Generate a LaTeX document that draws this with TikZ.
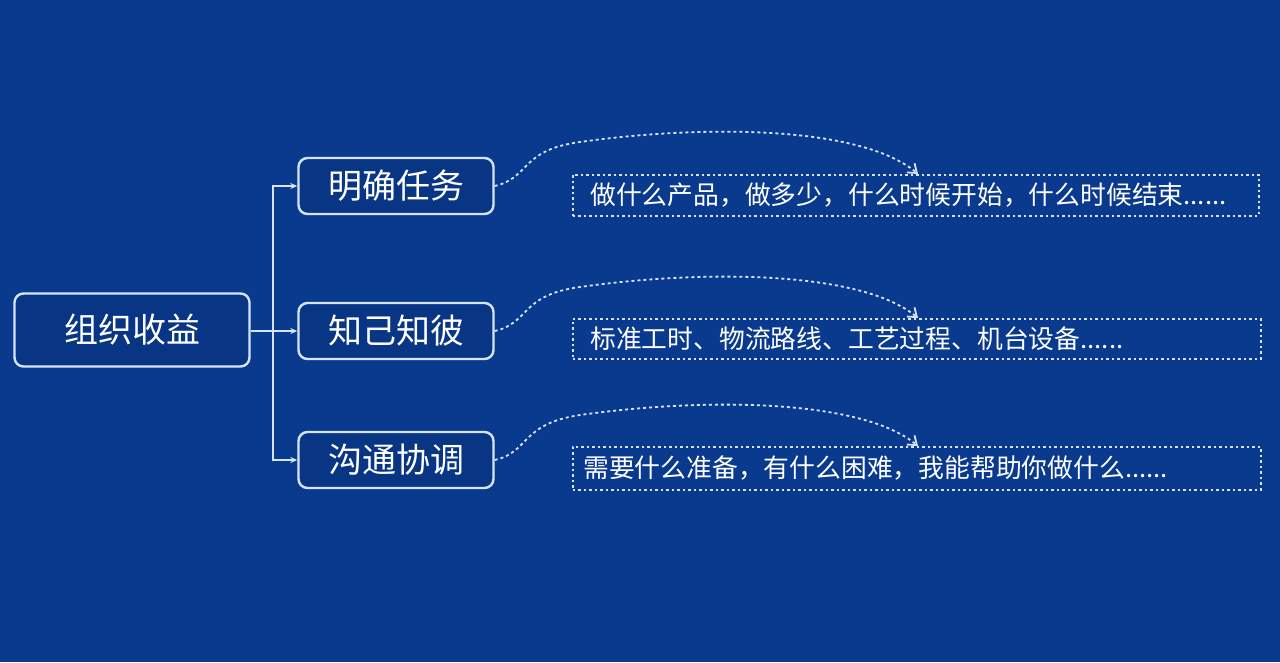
\documentclass[tikz,border=0pt]{standalone}
\usepackage{fontspec}
\setmainfont{Noto Sans CJK SC}
\usetikzlibrary{arrows.meta}
\definecolor{bgblue}{HTML}{0A3A8E}
\definecolor{boxblue}{HTML}{083584}
\definecolor{linew}{HTML}{D6E4FF}
\tikzset{
  mainbox/.style={draw=linew, line width=2.4pt, fill=boxblue, rounded corners=9pt, text=white, font=\fontsize{34}{40}\selectfont, inner sep=0pt},
  dbox/.style={draw=linew, line width=1.6pt, dash pattern=on 2.5pt off 3pt, anchor=north west, inner sep=0pt},
  dtext/.style={text=white, font=\fontsize{25.8}{30}\selectfont, anchor=west, inner sep=0pt},
  conn/.style={draw=linew, line width=2pt, -{Stealth[length=7pt,width=6pt]}},
  curve/.style={draw=linew, line width=1.8pt, dash pattern=on 3pt off 3pt, -{Straight Barb[length=8pt,width=12pt]}}
}
\begin{document}
\begin{tikzpicture}[x=1pt,y=-1pt]
\fill[bgblue] (0,0) rectangle (1280,662);
\useasboundingbox (0,0) rectangle (1280,662);

\node[mainbox, minimum width=235pt, minimum height=73pt] (root) at (132,330) {组织收益};
\node[mainbox, minimum width=195pt, minimum height=56pt] (a) at (396,186) {明确任务};
\node[mainbox, minimum width=195pt, minimum height=56pt] (b) at (396,331) {知己知彼};
\node[mainbox, minimum width=195pt, minimum height=56pt] (c) at (396,460) {沟通协调};

\coordinate (j) at (273,331);
\draw[conn] (root.east |- j) -- (b.west);
\draw[conn] (j) |- (a.west);
\draw[conn] (j) |- (c.west);

\node[dbox, minimum width=686pt, minimum height=41pt] (da) at (572,174) {};
\node[dbox, minimum width=688pt, minimum height=40pt] (db) at (572,318) {};
\node[dbox, minimum width=688pt, minimum height=43pt] (dc) at (572,446) {};

\node[dtext] (ta) at (590,195) {做什么产品，做多少，什么时候开始，什么时候结束......};
\node[dtext] (tb) at (590,339) {标准工时、物流路线、工艺过程、机台设备......};
\node[dtext] (tc) at (583,468) {需要什么准备，有什么困难，我能帮助你做什么......};

\coordinate (pa) at (918,174);
\coordinate (pb) at (918,318);
\coordinate (pc) at (918,446);
\draw[curve] (a.east) .. controls (530,178) and (520,150) .. (580,142) .. controls (700,125) and (860,125) .. (pa);
\draw[curve] (b.east) .. controls (530,323) and (520,295) .. (580,287) .. controls (700,270) and (860,270) .. (pb);
\draw[curve] (c.east) .. controls (530,452) and (520,424) .. (580,415) .. controls (700,398) and (860,398) .. (pc);
\end{tikzpicture}
\end{document}
